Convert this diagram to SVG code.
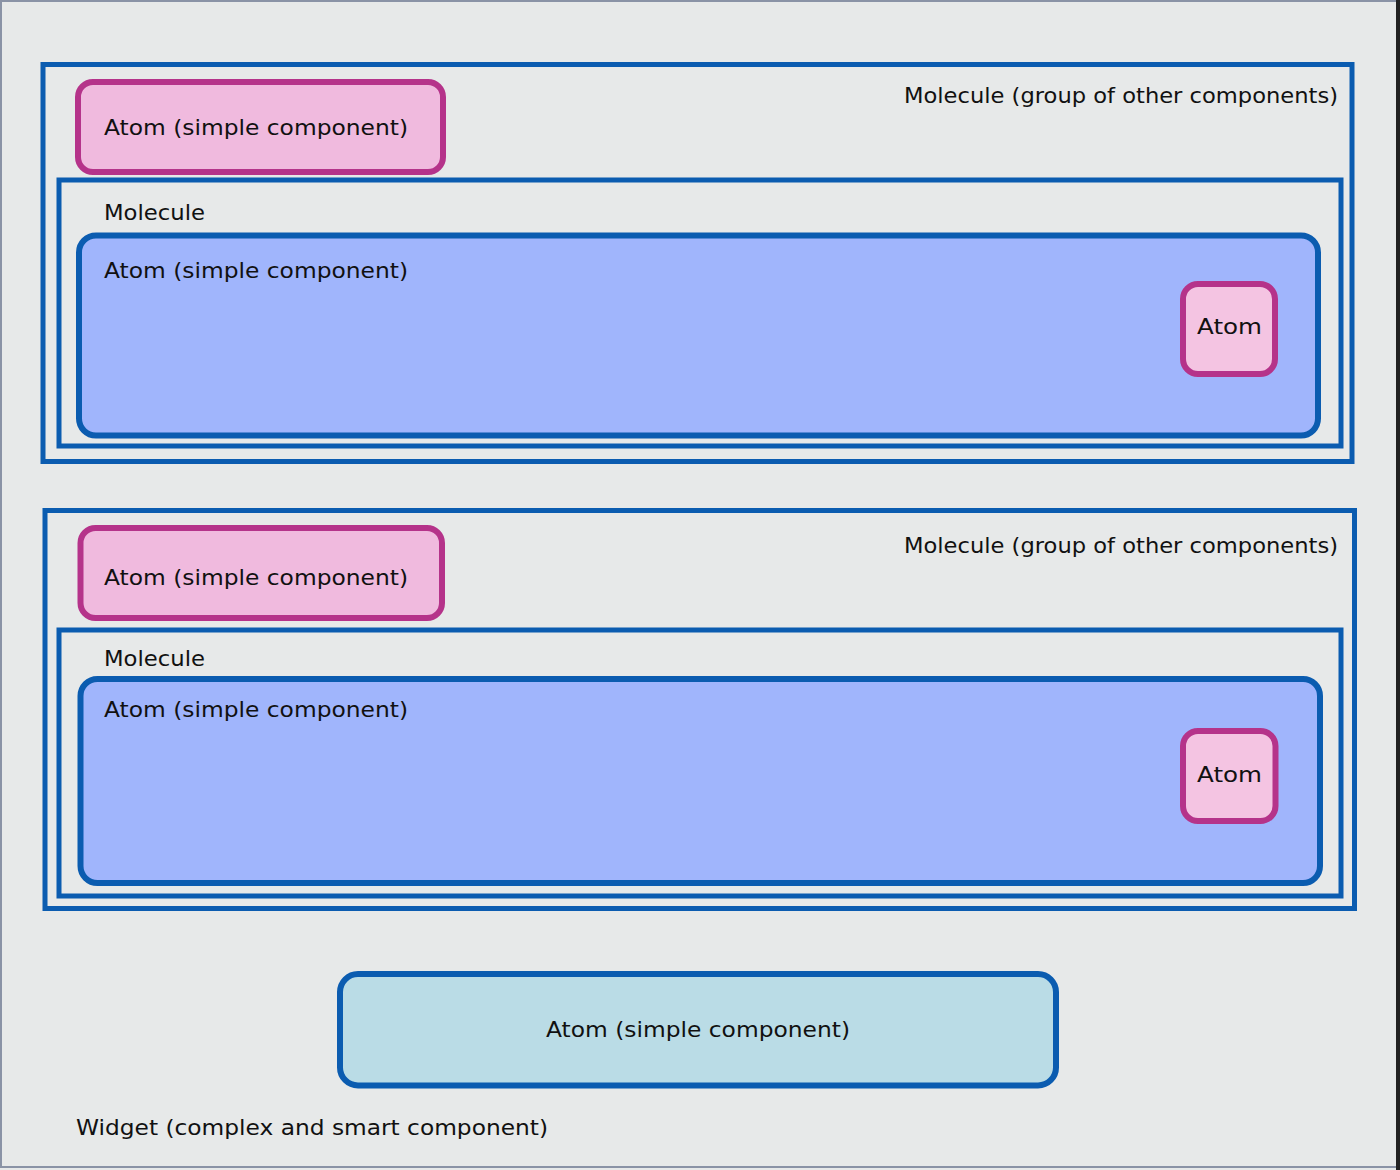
<svg xmlns="http://www.w3.org/2000/svg" width="1400" height="1170" viewBox="0 0 1400 1170">
<style>
  .bg { fill: #e7e9e9; }
  .mol { fill: none; stroke: #0b5cb0; stroke-width: 5; }
  .atom-pink { fill: #f0bade; stroke: #b5338a; stroke-width: 6; }
  .atom-small { fill: #f4c4e2; stroke: #b5338a; stroke-width: 6; }
  .atom-blue { fill: #a0b5fc; stroke: #0b5cb0; stroke-width: 6; }
  .atom-cyan { fill: #badce6; stroke: #0b5cb0; stroke-width: 6; }
  text { font-family: "DejaVu Sans", "Liberation Sans", sans-serif; font-size: 21px; fill: #111111; }
</style>
<rect class="bg" x="0" y="0" width="1400" height="1170"/>
<rect x="1" y="1" width="1396" height="1166" fill="none" stroke="#8a93a6" stroke-width="2"/>
<rect x="1396" y="0" width="4" height="1170" fill="#222222"/>

<g id="molecule-1">
  <rect class="mol" x="43" y="64.5" width="1309" height="397"/>
  <text x="904" y="103" textLength="434" lengthAdjust="spacingAndGlyphs">Molecule (group of other components)</text>
</g>
<g id="atom-1">
  <rect class="atom-pink" x="78" y="82" width="365" height="90" rx="15"/>
  <text x="104" y="135" textLength="304" lengthAdjust="spacingAndGlyphs">Atom (simple component)</text>
</g>
<g id="molecule-1-inner">
  <rect class="mol" x="59" y="180" width="1282" height="266"/>
  <text x="104" y="220" textLength="101" lengthAdjust="spacingAndGlyphs">Molecule</text>
</g>
<g id="atom-1-blue">
  <rect class="atom-blue" x="79" y="235.5" width="1239" height="200" rx="17"/>
  <text x="104" y="278" textLength="304" lengthAdjust="spacingAndGlyphs">Atom (simple component)</text>
</g>
<g id="atom-1-small">
  <rect class="atom-small" x="1183" y="284" width="92" height="90" rx="15"/>
  <text x="1197" y="334" textLength="65" lengthAdjust="spacingAndGlyphs">Atom</text>
</g>

<g id="molecule-2">
  <rect class="mol" x="45" y="510.5" width="1309.5" height="398"/>
  <text x="904" y="553" textLength="434" lengthAdjust="spacingAndGlyphs">Molecule (group of other components)</text>
</g>
<g id="atom-2">
  <rect class="atom-pink" x="80.5" y="528" width="361.5" height="90" rx="15"/>
  <text x="104" y="585" textLength="304" lengthAdjust="spacingAndGlyphs">Atom (simple component)</text>
</g>
<g id="molecule-2-inner">
  <rect class="mol" x="59" y="630" width="1282" height="266"/>
  <text x="104" y="666" textLength="101" lengthAdjust="spacingAndGlyphs">Molecule</text>
</g>
<g id="atom-2-blue">
  <rect class="atom-blue" x="80.5" y="679" width="1239.5" height="204" rx="17"/>
  <text x="104" y="717" textLength="304" lengthAdjust="spacingAndGlyphs">Atom (simple component)</text>
</g>
<g id="atom-2-small">
  <rect class="atom-small" x="1183" y="731" width="92.5" height="90" rx="15"/>
  <text x="1197" y="782" textLength="65" lengthAdjust="spacingAndGlyphs">Atom</text>
</g>

<g id="atom-3">
  <rect class="atom-cyan" x="340" y="974" width="716" height="111.5" rx="18"/>
  <text x="546" y="1037" textLength="304" lengthAdjust="spacingAndGlyphs">Atom (simple component)</text>
</g>
<g id="widget">
  <text x="76" y="1135" textLength="472" lengthAdjust="spacingAndGlyphs">Widget (complex and smart component)</text>
</g>
<g id="connectors"></g>
</svg>
